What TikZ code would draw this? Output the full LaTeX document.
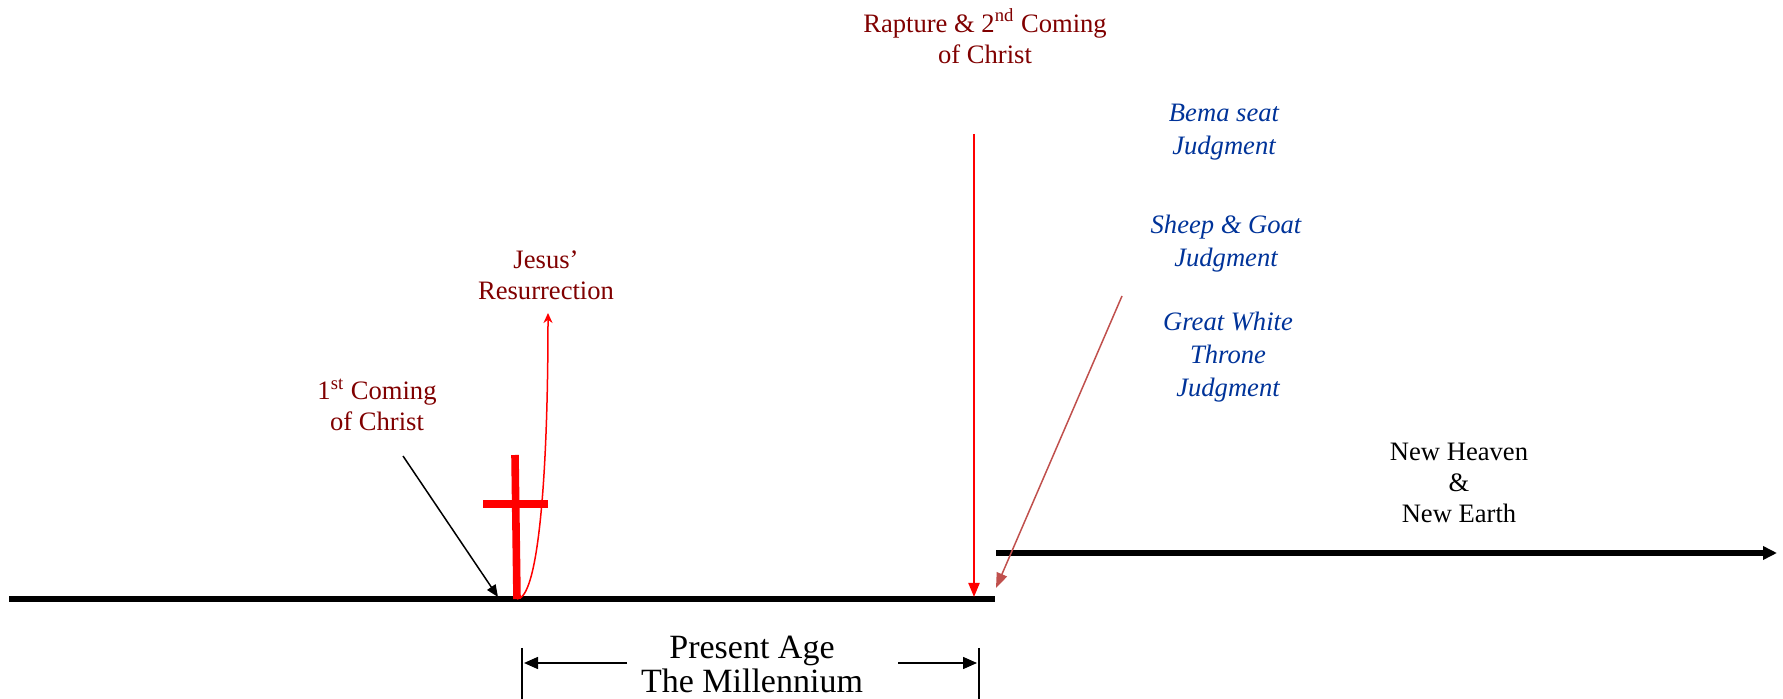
\documentclass[tikz,border=0pt]{standalone}
\usepackage{fontspec}
\setmainfont{Liberation Serif}
\usetikzlibrary{arrows.meta, positioning}
\definecolor{eventred}{RGB}{128,0,0}
\definecolor{judgeblue}{RGB}{0,51,153}
\definecolor{pointer}{RGB}{192,80,77}

\begin{document}
\begin{tikzpicture}[
      x=0.5pt, y=-0.5pt, >={Triangle[length=6pt,width=5pt]},
      event/.style={align=center, inner sep=0pt, text=eventred, font=\fontsize{13.3}{15.5}\selectfont},
      judge/.style={align=center, inner sep=0pt, text=judgeblue, font=\fontsize{13.3}{16.5}\selectfont\itshape},
      plain/.style={align=center, inner sep=0pt, font=\fontsize{13.3}{15.5}\selectfont},
      timeline/.style={line width=2.6pt},
      thin/.style={line width=0.75pt}
      ]
      \useasboundingbox (0,0) rectangle (1783,699);

      % texts
      \node[event] (rapture) at (985,36)  {Rapture \& 2\textsuperscript{nd} Coming\\of Christ};
      \node[event] (jesus)   at (546,275) {Jesus'\\Resurrection};
      \node[event] (first)   at (377,405) {1\textsuperscript{st} Coming\\of Christ};
      \node[judge] (bema)    at (1224,132) {Bema seat\\Judgment};
      \node[judge] (sheep)   at (1226,244) {Sheep \& Goat\\Judgment};
      \node[judge] (white)   at (1228,357) {Great White\\Throne\\Judgment};
      \node[plain] (newhe)   at (1459,483) {New Heaven\\\&\\New Earth};
      \node[align=center, inner sep=0pt, font=\fontsize{17}{17}\selectfont] (age) at (752,664) {Present Age\\The Millennium};

      % points on the time line
      \coordinate (start)  at (9,599);
      \coordinate (cross)  at (517,599);
      \coordinate (end)    at (995,599);
      \coordinate (coming) at (974,597);
      \coordinate (newst)  at (996,553);
      \coordinate (newend) at (1777,553);

      \draw[timeline] (start) -- (end);
      \draw[timeline, -{Triangle[length=7pt,width=6.5pt]}] (newst) -- (newend);

      % the cross
      \draw[red, line width=3.8pt] (515,455) -- (cross);
      \draw[red, line width=3.8pt] (483,504) -- (548,504);

      \draw[thin, ->] (403,456) -- (498,597);
      \draw[thin, red, -{Stealth[length=5pt,width=4.5pt]}] (cross) .. controls (538,599) and (548,480) .. (548,313);
      \draw[red, line width=1pt, -{Triangle[length=7pt,width=5.5pt]}] (974,134) -- (coming);
      \draw[pointer, thin, -{Triangle[length=7.5pt,width=5.5pt]}] (1122,296) -- (996,588);

      % span of the present age
      \draw[thin] (522,648) -- (522,699);
      \draw[thin] (979,648) -- (979,699);
      \draw[thin, -{Triangle[length=7pt,width=6pt]}] (627,663) -- (524,663);
      \draw[thin, -{Triangle[length=7pt,width=6pt]}] (898,663) -- (977,663);
    \end{tikzpicture}
\end{document}
